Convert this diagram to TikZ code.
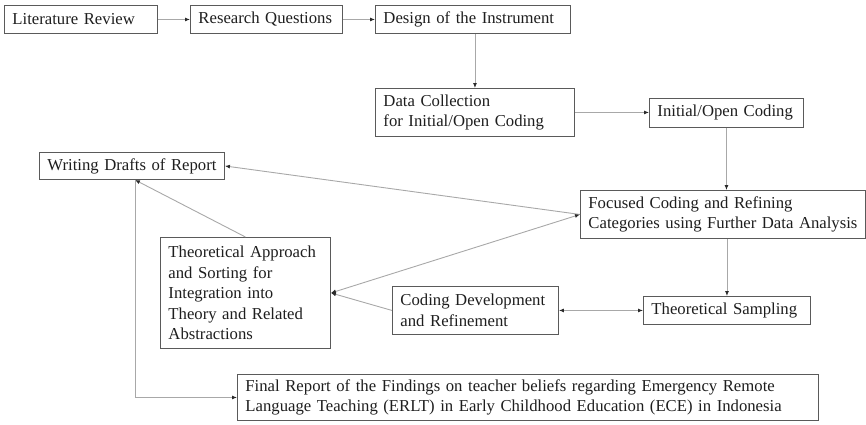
\documentclass[tikz,border=0pt]{standalone}
\usepackage{fontspec}
\setmainfont{Liberation Serif}
\usetikzlibrary{arrows.meta,calc}
\definecolor{boxline}{HTML}{5A5A5A}
\definecolor{linkline}{HTML}{A8A8A8}
\definecolor{tipcol}{HTML}{2A2A2A}
\definecolor{inkcol}{HTML}{1E1E1E}
\tikzset{
  box/.style={draw=boxline, line width=0.9pt, anchor=north west, align=left,
    inner xsep=8pt, inner ysep=0pt, text=inkcol,
    font=\fontsize{16.7}{20.5}\selectfont},
  link/.style={draw=linkline, line width=0.9pt,
    -{Latex[length=5pt,width=4pt,color=tipcol]}},
  link2/.style={draw=linkline, line width=0.9pt,
    {Latex[length=5pt,width=4pt,color=tipcol]}-{Latex[length=5pt,width=4pt,color=tipcol]}},
}
% Single unbreakable text line
\newcommand{\oneline}[1]{\mbox{#1}}
% Place a box by its top-left corner (#2,#3) with width #4 and height #5
\newcommand{\boxat}[6]{%
  \node[box, text width=#4-16pt, minimum height=#5] (#1) at (#2,#3) {#6};}
\begin{document}
\begin{tikzpicture}[x=1pt,y=-1pt]
\useasboundingbox (0,0) rectangle (866,424);

% Top row
\boxat{lit}{4}{5}{153pt}{28pt}{\oneline{Literature Review}}
\boxat{rq}{190}{5}{152pt}{28pt}{\oneline{Research Questions}}
\boxat{design}{375}{5}{195pt}{28pt}{\oneline{Design of the Instrument}}

% Data collection and open coding
\boxat{data}{375}{88}{199pt}{48pt}{\oneline{Data Collection}\\\oneline{for Initial/Open Coding}}
\boxat{init}{649}{98}{154pt}{29pt}{\oneline{Initial/Open Coding}}

% Middle section
\boxat{writing}{39}{152}{185pt}{27pt}{\oneline{Writing Drafts of Report}}
\boxat{focused}{580}{190}{285pt}{48pt}{\oneline{Focused Coding and Refining}\\\oneline{Categories using Further Data Analysis}}
\boxat{theo}{160}{237}{170pt}{111pt}{\oneline{Theoretical Approach}\\\oneline{and Sorting for}\\\oneline{Integration into}\\\oneline{Theory and Related}\\\oneline{Abstractions}}
\boxat{coding}{392}{286}{166pt}{48pt}{\oneline{Coding Development}\\\oneline{and Refinement}}
\boxat{sampling}{643}{296}{167pt}{28pt}{\oneline{Theoretical Sampling}}

% Final report
\boxat{final}{237}{374}{581pt}{46pt}{\oneline{Final Report of the Findings on teacher beliefs regarding Emergency Remote}\\\oneline{Language Teaching (ERLT) in Early Childhood Education (ECE) in Indonesia}}

% Connectors
\draw[link] (lit.east) -- (rq.west);
\draw[link] (rq.east) -- (design.west);
\draw[link] (data.north |- design.south) -- (data.north);
\draw[link] (data.east) -- (data.east -| init.west);
\draw[link] (init.south) -- (init.south |- focused.north);
\draw[link] (sampling.north |- focused.south) -- (sampling.north);
\draw[link2] (coding.east) -- (coding.east -| sampling.west);
\draw[link] (focused.west) -- (writing.east);
\draw[link2] (theo.east) -- (focused.west);
\draw[link] (coding.west) -- (theo.east);
\draw[link] (theo.north) -- ($(writing.south)+(3,0)$);
\draw[link] ($(writing.south)+(3,0)$) |- (final.west);
\end{tikzpicture}
\end{document}
